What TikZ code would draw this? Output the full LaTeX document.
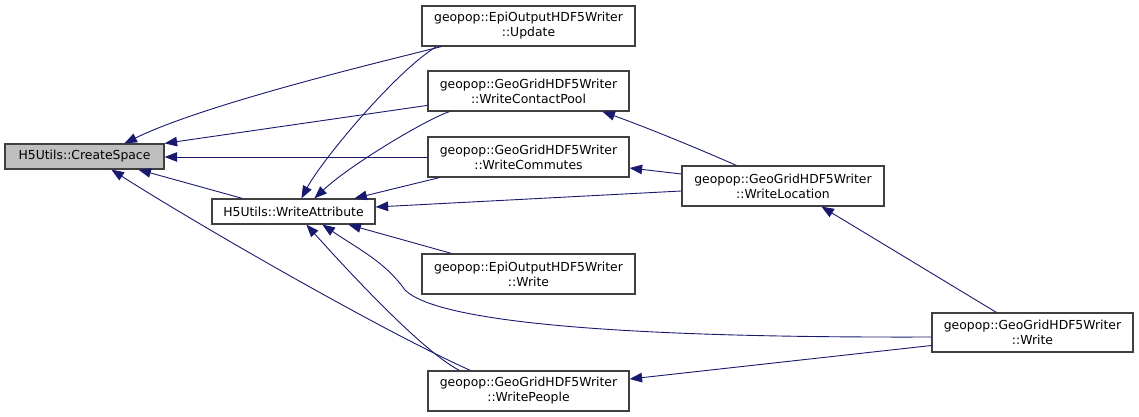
\documentclass[tikz,border=0pt]{standalone}
\usepackage{fontspec}
\setmainfont{DejaVu Sans}
\usetikzlibrary{arrows.meta}
\definecolor{edgec}{HTML}{191970}
\definecolor{boxc}{HTML}{404040}
\definecolor{csfill}{HTML}{BFBFBF}
\begin{document}
\begin{tikzpicture}[x=1pt,y=-1pt,
  box/.style={draw=boxc, line width=1.2pt, fill=white, inner sep=0pt, align=center,
    font=\fontsize{12.4}{15}\selectfont},
  edge/.style={draw=edgec, line width=0.9pt, -{Triangle[length=12.5pt,width=9.5pt]}},
]
\useasboundingbox[fill=white] (0,0) rectangle (1139,417);
\node[box, fill=csfill, minimum width=159pt, minimum height=25pt] (cs) at (84.5,156.5) {H5Utils::CreateSpace};
\node[box, minimum width=163pt, minimum height=25pt] (wa) at (293.5,211.5) {H5Utils::WriteAttribute};
\node[box, minimum width=213pt, minimum height=40pt] (upd) at (528.5,26) {geopop::EpiOutputHDF5Writer\\::Update};
\node[box, minimum width=201pt, minimum height=40pt] (wcp) at (528.5,91) {geopop::GeoGridHDF5Writer\\::WriteContactPool};
\node[box, minimum width=201pt, minimum height=40pt] (wcm) at (528.5,157) {geopop::GeoGridHDF5Writer\\::WriteCommutes};
\node[box, minimum width=202pt, minimum height=40pt] (wl) at (783,186) {geopop::GeoGridHDF5Writer\\::WriteLocation};
\node[box, minimum width=213pt, minimum height=40pt] (eow) at (528.5,274) {geopop::EpiOutputHDF5Writer\\::Write};
\node[box, minimum width=201pt, minimum height=39pt] (ggw) at (1032.5,332.5) {geopop::GeoGridHDF5Writer\\::Write};
\node[box, minimum width=201pt, minimum height=40pt] (wp) at (528.5,391) {geopop::GeoGridHDF5Writer\\::WritePeople};

% Update
\draw[edge] ([shift={(20,0)}]upd.south west) .. controls (380,62) and (205,104) .. ([shift={(120,0)}]cs.north west);
\draw[edge] ([shift={(15,0)}]upd.south west) .. controls (395,72) and (322,160) .. ([shift={(90,0)}]wa.north west);
% WriteContactPool
\draw[edge] ([shift={(0,35)}]wcp.north west) -- (cs.north east);
\draw[edge] ([shift={(22,0)}]wcp.south west) .. controls (425,120) and (350,165) .. ([shift={(103,0)}]wa.north west);
% WriteCommutes
\draw[edge] (wcm.west) -- (cs.east |- wcm.west);
\draw[edge] ([shift={(12,0)}]wcm.south west) -- ([shift={(143,0)}]wa.north west);
% WriteLocation
\draw[edge] ([shift={(0,-12)}]wl.west) -- ([shift={(0,11)}]wcm.east);
\draw[edge] ([shift={(55,0)}]wl.north west) .. controls (690,145) and (640,125) .. ([shift={(175,0)}]wcp.south west);
\draw[edge] ([shift={(0,5)}]wl.west) -- ([shift={(0,-4.5)}]wa.east);
% WriteAttribute
\draw[edge] ([shift={(31,0)}]wa.north west) -- ([shift={(134,0)}]cs.south west);
% EpiOutput Write
\draw[edge] ([shift={(30,0)}]eow.north west) -- ([shift={(137,0)}]wa.south west);
% GeoGrid Write
\draw[edge] ([shift={(0,4.5)}]ggw.west) .. controls (650,338) and (440,325) .. (405,290)
  .. controls (385,262) and (360,250) .. ([shift={(111,0)}]wa.south west);
\draw[edge] ([shift={(65,0)}]ggw.north west) -- ([shift={(140,0)}]wl.south west);
\draw[edge] ([shift={(0,13)}]ggw.west) -- ([shift={(0,-12)}]wp.east);
% WritePeople
\draw[edge] ([shift={(32,0)}]wp.north west) .. controls (420,350) and (340,262) .. ([shift={(95,0)}]wa.south west);
\draw[edge] ([shift={(43,0)}]wp.north west) .. controls (380,330) and (190,220) .. ([shift={(107,0)}]cs.south west);
\end{tikzpicture}
\end{document}
